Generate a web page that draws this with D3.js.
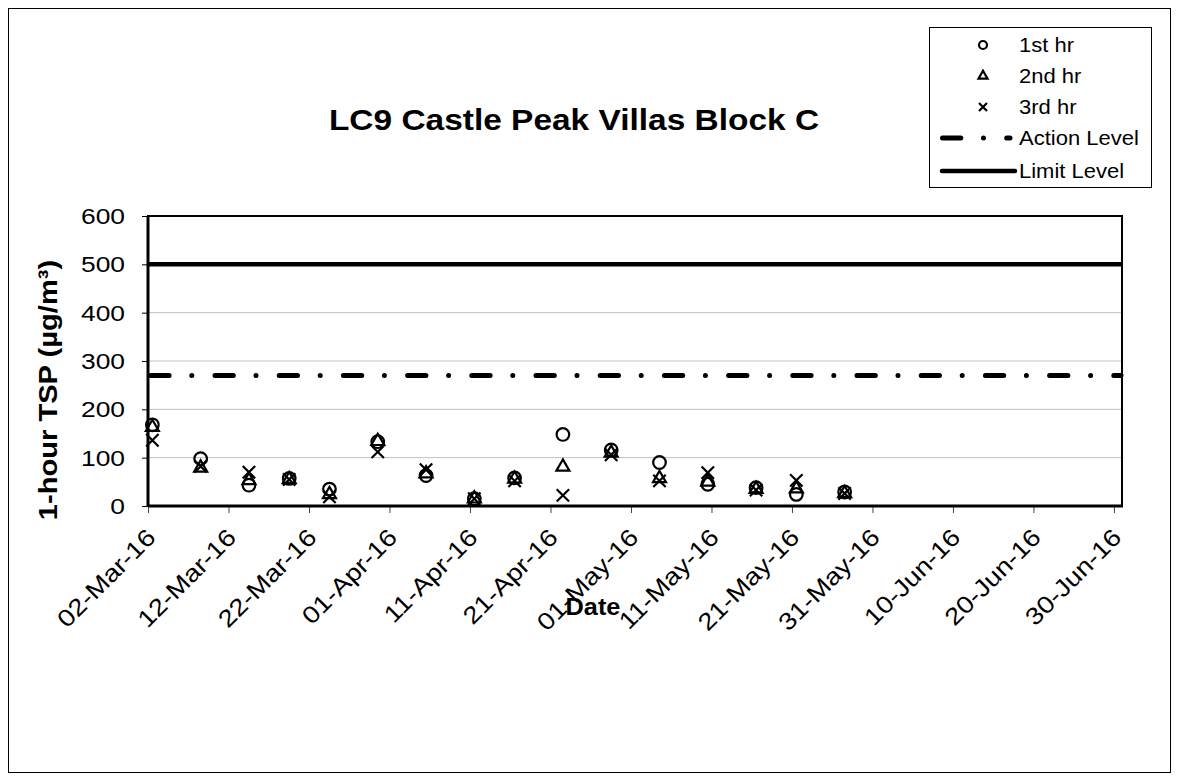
<!DOCTYPE html>
<html>
<head>
<meta charset="utf-8">
<script src="https://cdn.jsdelivr.net/npm/d3@7"></script>
<style>
  body { margin: 0; background: #fff; }
  text { font-family: "Liberation Sans", Arial, sans-serif; fill: #000; }
</style>
</head>
<body>
<div id="chart"></div>
<script>
// data //
const sampleDates = ['2016-03-02', '2016-03-08', '2016-03-14', '2016-03-19', '2016-03-24', '2016-03-30',
  '2016-04-05', '2016-04-11', '2016-04-16', '2016-04-22', '2016-04-28', '2016-05-04',
  '2016-05-10', '2016-05-16', '2016-05-21', '2016-05-27']
const firstHr = [168, 98, 43, 57, 35, 133, 63, 15, 58, 148, 116, 90, 45, 38, 24, 29]
const secondHr = [163, 79, 53, 55, 24, 134, 67, 15, 56, 81, 110, 57, 50, 35, 36, 26]
const thirdHr = [136, 82, 70, 55, 19, 112, 75, 15, 52, 22, 106, 52, 69, 33, 53, 26]
const actionLevel = 270
const limitLevel = 500
const yTicks = [0, 100, 200, 300, 400, 500, 600]
const xTickDates = ['2016-03-02', '2016-03-12', '2016-03-22', '2016-04-01', '2016-04-11', '2016-04-21',
  '2016-05-01', '2016-05-11', '2016-05-21', '2016-05-31', '2016-06-10', '2016-06-20', '2016-06-30']
const legendLabels = ['1st hr', '2nd hr', '3rd hr', 'Action Level', 'Limit Level']

const title = 'LC9 Castle Peak Villas Block C'
const yTitle = '1-hour TSP (µg/m³)'
const xTitle = 'Date'

// svg //
const width = 1179
const height = 781
const plot = { left: 148, right: 1122, top: 216, bottom: 506 }
const actionDash = '18.3,22.7,0,23.2'

const parseDay = d3.timeParse('%Y-%m-%d')
const parseTime = d3.timeParse('%Y-%m-%d %H:%M')
const fmt = d3.timeFormat('%d-%b-%y')

const svg = d3.select('#chart').append('svg')
  .attr('width', width)
  .attr('height', height)

svg.append('rect')
  .attr('x', 8.5).attr('y', 8.5)
  .attr('width', 1162).attr('height', 764)
  .attr('fill', '#fff')
  .attr('stroke', '#000')

const x = d3.scaleTime()
  .domain([parseDay('2016-03-02'), parseDay('2016-07-01')])
  .range([plot.left, plot.right])
const y = d3.scaleLinear()
  .domain([0, 600])
  .range([plot.bottom, plot.top])

// gridlines
svg.append('g')
  .selectAll('line')
  .data(yTicks.filter(d => d > 0 && d < 600))
  .enter()
  .append('line')
  .attr('x1', plot.left).attr('x2', plot.right)
  .attr('y1', d => y(d)).attr('y2', d => y(d))
  .attr('stroke', '#c0c0c0')
  .attr('stroke-width', 1)

// y axis
const yAxis = svg.append('g')
  .attr('transform', `translate(${plot.left},0)`)
  .call(d3.axisLeft(y).tickValues(yTicks).tickSize(6).tickFormat(''))
yAxis.select('.domain').remove()
yAxis.selectAll('line').attr('stroke', '#000')

svg.append('g')
  .selectAll('text')
  .data(yTicks)
  .enter()
  .append('text')
  .attr('transform', d => `translate(125,${y(d) + 8}) scale(1.2,1)`)
  .attr('text-anchor', 'end')
  .style('font-size', '22px')
  .text(d => d)

// x axis
const xAxis = svg.append('g')
  .attr('transform', `translate(0,${plot.bottom})`)
  .call(d3.axisBottom(x).tickValues(xTickDates.map(parseDay)).tickSize(7).tickFormat(''))
xAxis.select('.domain').remove()
xAxis.selectAll('line').attr('stroke', '#444')

svg.append('g')
  .selectAll('text')
  .data(xTickDates.map(parseDay))
  .enter()
  .append('text')
  .attr('transform', d => `translate(${x(d) + 9},${plot.bottom + 33}) rotate(-45) scale(1.15,1)`)
  .attr('text-anchor', 'end')
  .style('font-size', '24px')
  .text(d => fmt(d))

// plot frame
svg.append('rect')
  .attr('x', plot.left).attr('y', plot.top)
  .attr('width', plot.right - plot.left)
  .attr('height', plot.bottom - plot.top)
  .attr('fill', 'none')
  .attr('stroke', '#000')
  .attr('stroke-width', 2)
svg.append('line')
  .attr('x1', plot.left).attr('x2', plot.left)
  .attr('y1', plot.top).attr('y2', plot.bottom + 1)
  .attr('stroke', '#000').attr('stroke-width', 3)
svg.append('line')
  .attr('x1', plot.left).attr('x2', plot.right + 1)
  .attr('y1', plot.bottom).attr('y2', plot.bottom)
  .attr('stroke', '#000').attr('stroke-width', 3)

// level lines
svg.append('line')
  .attr('x1', plot.left + 2.8).attr('x2', plot.right - 1)
  .attr('y1', y(actionLevel)).attr('y2', y(actionLevel))
  .attr('stroke', '#000')
  .attr('stroke-width', 5)
  .attr('stroke-linecap', 'round')
  .attr('stroke-dasharray', actionDash)
svg.append('line')
  .attr('x1', plot.left).attr('x2', plot.right)
  .attr('y1', y(limitLevel)).attr('y2', y(limitLevel))
  .attr('stroke', '#000')
  .attr('stroke-width', 4.5)

// markers //
const circlePath = r => `M${r},0A${r},${r},0,1,1,${-r},0A${r},${r},0,1,1,${r},0Z`
const trianglePath = s => {
  const h = s * Math.sqrt(3) / 2
  return `M0,${-h * 2 / 3}L${s / 2},${h / 3}L${-s / 2},${h / 3}Z`
}
const crossPath = s => `M${-s},${-s}L${s},${s}M${s},${-s}L${-s},${s}`

const series = [
  { name: legendLabels[0], values: firstHr, path: circlePath(6.3), legendPath: circlePath(4) },
  { name: legendLabels[1], values: secondHr, path: trianglePath(13), legendPath: trianglePath(9) },
  { name: legendLabels[2], values: thirdHr, path: crossPath(6.2), legendPath: crossPath(4) }
]

const pointDate = sampleDates.map(d => parseTime(d + ' 13:00'))

series.forEach(s => {
  svg.append('g')
    .selectAll('path')
    .data(s.values)
    .enter()
    .append('path')
    .attr('transform', (d, i) => `translate(${x(pointDate[i])},${y(d)})`)
    .attr('d', s.path)
    .attr('fill', 'none')
    .attr('stroke', '#000')
    .attr('stroke-width', 2.2)
})

// titles //
svg.append('text')
  .attr('transform', `translate(574,130) scale(1.115,1)`)
  .attr('text-anchor', 'middle')
  .style('font-size', '30px')
  .style('font-weight', 'bold')
  .text(title)

svg.append('text')
  .attr('transform', `translate(57,390) rotate(-90) scale(1.12,1)`)
  .attr('text-anchor', 'middle')
  .style('font-size', '26px')
  .style('font-weight', 'bold')
  .text(yTitle)

svg.append('text')
  .attr('transform', `translate(593,615) scale(1.1,1)`)
  .attr('text-anchor', 'middle')
  .style('font-size', '23px')
  .style('font-weight', 'bold')
  .text(xTitle)

// legend //
const legend = svg.append('g')
legend.append('rect')
  .attr('x', 929.5).attr('y', 27.5)
  .attr('width', 222).attr('height', 160)
  .attr('fill', '#fff')
  .attr('stroke', '#000')

const rowY = [45, 76, 107, 138, 171]

series.forEach((s, i) => {
  legend.append('path')
    .attr('transform', `translate(983,${rowY[i]})`)
    .attr('d', s.legendPath)
    .attr('fill', 'none')
    .attr('stroke', '#000')
    .attr('stroke-width', 2.2)
})

legend.append('line')
  .attr('x1', 942.5).attr('x2', 1010)
  .attr('y1', rowY[3]).attr('y2', rowY[3])
  .attr('stroke', '#000')
  .attr('stroke-width', 5)
  .attr('stroke-linecap', 'round')
  .attr('stroke-dasharray', actionDash)
legend.append('line')
  .attr('x1', 942).attr('x2', 1015)
  .attr('y1', rowY[4]).attr('y2', rowY[4])
  .attr('stroke', '#000')
  .attr('stroke-width', 4.5)
  .attr('stroke-linecap', 'round')

legend.selectAll('text.label')
  .data(legendLabels)
  .enter()
  .append('text')
  .attr('class', 'label')
  .attr('transform', (d, i) => `translate(1019,${rowY[i] + 7}) scale(1.1,1)`)
  .style('font-size', '20px')
  .text(d => d)
</script>
</body>
</html>
